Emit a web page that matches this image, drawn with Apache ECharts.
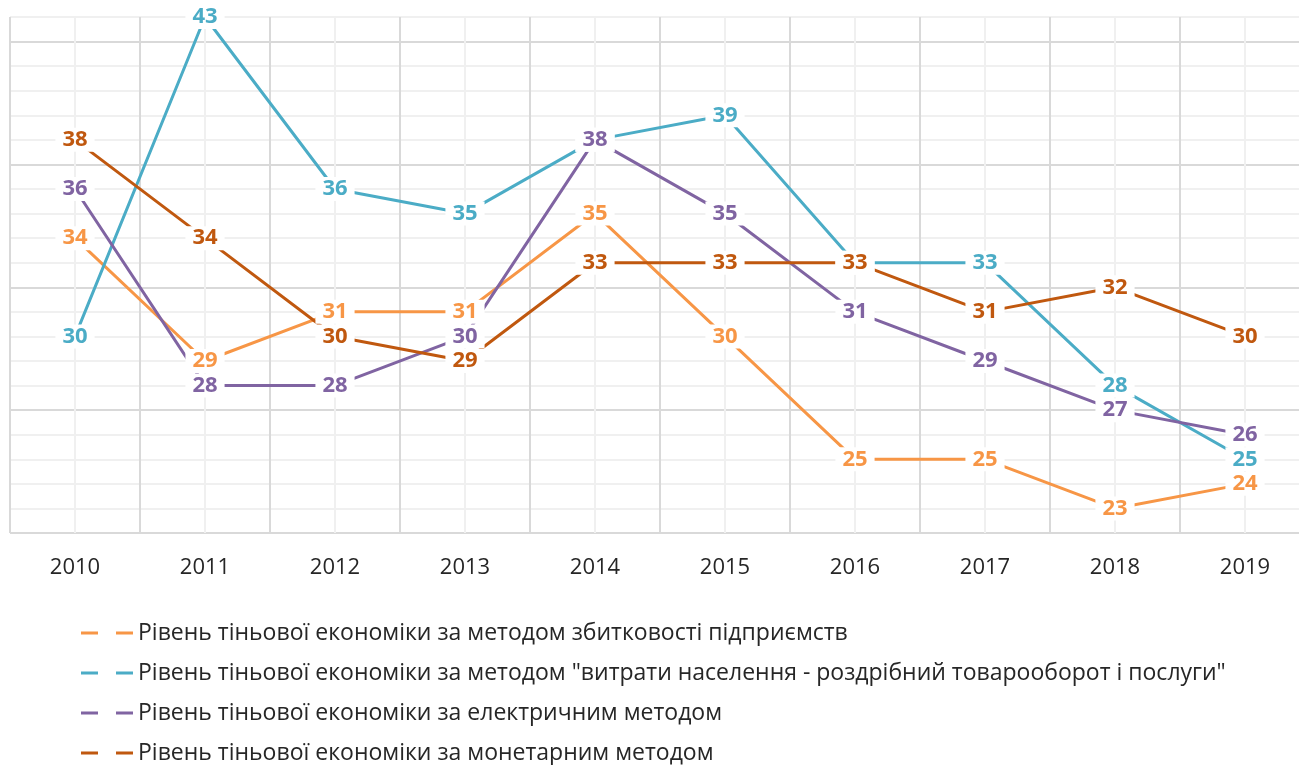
<!DOCTYPE html>
<html>
<head>
<meta charset="utf-8">
<title>Рівень тіньової економіки</title>
<script src="https://cdn.jsdelivr.net/npm/echarts@6/dist/echarts.min.js"></script>
<style>
  html, body { margin: 0; padding: 0; background: #fff; overflow: hidden; }
  /* plot runs a little past the right edge, as in the source picture */
  .line { width: 1330px; height: 765px; }
</style>
</head>
<body>
<div class="line"></div>
<script>
// data
var years = ['2010', '2011', '2012', '2013', '2014', '2015', '2016', '2017', '2018', '2019'];
var seriesNames = [
  'Рівень тіньової економіки за методом збитковості підприємств',
  'Рівень тіньової економіки за методом "витрати населення - роздрібний товарооборот і послуги"',
  'Рівень тіньової економіки за електричним методом',
  'Рівень тіньової економіки за монетарним методом'
];
var lossMethod = [34, 29, 31, 31, 35, 30, 25, 25, 23, 24];
var spendingMethod = [30, 43, 36, 35, 38, 39, 33, 33, 28, 25];
var electricMethod = [36, 28, 28, 30, 38, 35, 31, 29, 27, 26];
var monetaryMethod = [38, 34, 30, 29, 33, 33, 33, 31, 32, 30];

;(function() {
  // 1. init
  var myChart = echarts.init(document.querySelector('.line'));

  var colors = ['#f79646', '#4bacc6', '#8064a2', '#c0580f'];
  var values = [lossMethod, spendingMethod, electricMethod, monetaryMethod];
  var font = '"Open Sans", "Noto Sans", sans-serif';

  // every line is built the same way, labels sit on the points
  function makeSeries(i) {
    return {
      name: seriesNames[i],
      type: 'line',
      xAxisIndex: 0,
      yAxisIndex: 0,
      data: values[i],
      symbol: 'circle',
      symbolSize: 1,
      lineStyle: { width: 3, color: colors[i] },
      itemStyle: { color: colors[i] },
      label: {
        show: true,
        position: 'inside',
        color: colors[i],
        fontFamily: font,
        fontWeight: 'bold',
        fontSize: 22,
        backgroundColor: '#fff',
        padding: [1, 7, 1, 7]
      },
      emphasis: { disabled: true },
      animation: false
    };
  }

  // 2. options
  var option = {
    color: colors,
    textStyle: { fontFamily: font },
    grid: {
      left: 10,
      top: 17,
      width: 1300,
      height: 516
    },
    legend: {
      orient: 'vertical',
      left: 76,
      top: 614,
      height: 200,
      itemWidth: 52,
      itemHeight: 3,
      itemGap: 12,
      icon: 'path://M0,0H17V3H0Z M35,0H52V3H35Z',
      textStyle: { fontFamily: font, fontSize: 23, lineHeight: 28, color: '#262626' },
      data: seriesNames
    },
    xAxis: [
      {
        type: 'category',
        data: years,
        boundaryGap: true,
        position: 'bottom',
        axisLine: { show: false },
        axisTick: { show: false },
        splitLine: { show: false },
        axisLabel: { fontFamily: font, fontSize: 22, color: '#262626', margin: 24 }
      },
      {
        // only for the grid lines: boundaries dark, centres light
        type: 'value',
        position: 'top',
        min: 0,
        max: 10,
        interval: 0.5,
        axisLine: { show: false },
        axisTick: { show: false },
        axisLabel: { show: false },
        splitLine: { show: true, lineStyle: { width: 2, color: ['#d9d9d9', '#f0f0f0'] } }
      }
    ],
    yAxis: [
      {
        type: 'value',
        min: 22,
        max: 43,
        interval: 1,
        axisLine: { show: false },
        axisTick: { show: false },
        axisLabel: { show: false },
        splitLine: {
          show: true,
          lineStyle: { width: 2, color: ['#d9d9d9', '#f0f0f0', '#f0f0f0', '#f0f0f0', '#f0f0f0'] }
        }
      }
    ],
    series: [makeSeries(0), makeSeries(1), makeSeries(2), makeSeries(3)]
  };

  // 3. set
  myChart.setOption(option);
  window.addEventListener('resize', function() {
    myChart.resize();
  });
})();
</script>
</body>
</html>
